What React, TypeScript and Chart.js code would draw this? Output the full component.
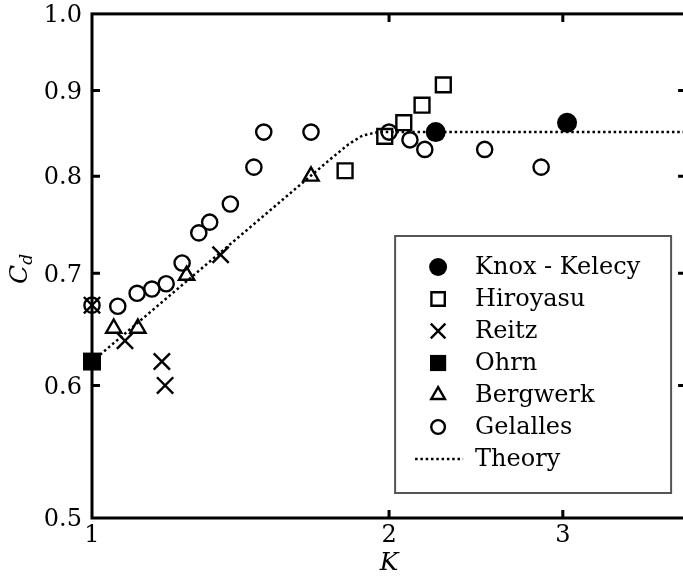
import React, { useEffect, useRef } from 'react';
import { Chart, registerables } from 'chart.js';
import { drawPoint } from 'chart.js/helpers';

Chart.register(...registerables);

// Discharge coefficient C_d against cavitation number K, by source
const knoxK = [2.23, 3.03];
const knoxCd = [0.85, 0.861];
const hiroyasuK = [1.805, 1.98, 2.07, 2.16, 2.27];
const hiroyasuCd = [0.806, 0.845, 0.861, 0.882, 0.907];
const reitzK = [1.0, 1.08, 1.177, 1.186, 1.35];
const reitzCd = [0.67, 0.638, 0.62, 0.6, 0.718];
const ohrnK = [1.0];
const ohrnCd = [0.62];
const bergwerkK = [1.052, 1.113, 1.247, 1.667];
const bergwerkCd = [0.649, 0.649, 0.698, 0.8];
const gelallesK = [1.0, 1.062, 1.111, 1.15, 1.189, 1.234, 1.283, 1.316, 1.381, 1.459, 1.493, 1.667, 2.0, 2.1, 2.174, 2.5, 2.852];
const gelallesCd = [0.67, 0.669, 0.681, 0.685, 0.69, 0.71, 0.74, 0.751, 0.77, 0.81, 0.85, 0.85, 0.85, 0.841, 0.83, 0.83, 0.81];
const theoryK = [1.0, 1.74, 1.82, 1.88, 1.95, 4.0];
const theoryCd = [0.62, 0.818, 0.836, 0.846, 0.85, 0.85];

const xTicks = [1, 2, 3];
const yTicks = [0.5, 0.6, 0.7, 0.8, 0.9, 1.0];

const SERIF = "'DejaVu Serif', serif";

const pts = (xs: number[], ys: number[]) => xs.map((x, i) => ({ x, y: ys[i] }));

// Closed frame with inward tick marks on all four sides, plus the C_d axis title
const frameTicks = {
  id: 'frameTicks',
  beforeDatasetsDraw(chart: any) {
    const { ctx, chartArea: a, scales } = chart;
    const sx = scales.x;
    const sy = scales.y;
    ctx.save();
    ctx.strokeStyle = '#000';
    ctx.lineWidth = 3;
    ctx.lineCap = 'butt';
    ctx.strokeRect(a.left, a.top, a.right - a.left, a.bottom - a.top);
    const len = 8;
    ctx.beginPath();
    xTicks.forEach((v) => {
      const px = sx.getPixelForValue(v);
      if (px <= a.left + 1 || px >= a.right - 1) return;
      ctx.moveTo(px, a.bottom);
      ctx.lineTo(px, a.bottom - len);
      ctx.moveTo(px, a.top);
      ctx.lineTo(px, a.top + len);
    });
    yTicks.forEach((v) => {
      const py = sy.getPixelForValue(v);
      if (py <= a.top + 1 || py >= a.bottom - 1) return;
      ctx.moveTo(a.left, py);
      ctx.lineTo(a.left + len, py);
      ctx.moveTo(a.right, py);
      ctx.lineTo(a.right - len, py);
    });
    ctx.stroke();

    // y-axis title: italic C with subscript d
    const cy = (a.top + a.bottom) / 2 + 3;
    ctx.translate(27, cy);
    ctx.rotate(-Math.PI / 2);
    ctx.fillStyle = '#000';
    ctx.textBaseline = 'alphabetic';
    ctx.textAlign = 'left';
    ctx.font = `italic 25px ${SERIF}`;
    const wC = ctx.measureText('C').width;
    ctx.font = `italic 17px ${SERIF}`;
    const wd = ctx.measureText('d').width;
    const start = -(wC + wd) / 2;
    ctx.font = `italic 25px ${SERIF}`;
    ctx.fillText('C', start, 0);
    ctx.font = `italic 17px ${SERIF}`;
    ctx.fillText('d', start + wC, 5);
    ctx.restore();
  },
};

// Boxed legend in the lower right of the plot area
const boxLegend = {
  id: 'boxLegend',
  afterDatasetsDraw(chart: any) {
    const { ctx, chartArea: a } = chart;
    const left = a.right - 291;
    const right = a.right - 15;
    const top = a.bottom - 282;
    const bottom = a.bottom - 25;
    ctx.save();
    ctx.fillStyle = '#fff';
    ctx.fillRect(left, top, right - left, bottom - top);
    ctx.strokeStyle = '#555';
    ctx.lineWidth = 2;
    ctx.strokeRect(left, top, right - left, bottom - top);

    const markerX = left + 43;
    const textX = left + 80;
    chart.data.datasets.forEach((ds: any, i: number) => {
      const rowY = top + 31 + i * 32;
      if (ds.showLine) {
        ctx.save();
        ctx.strokeStyle = ds.borderColor;
        ctx.lineWidth = ds.borderWidth;
        ctx.setLineDash(ds.borderDash);
        ctx.beginPath();
        ctx.moveTo(left + 20, rowY);
        ctx.lineTo(left + 68, rowY);
        ctx.stroke();
        ctx.restore();
      } else {
        ctx.fillStyle = ds.pointBackgroundColor;
        ctx.strokeStyle = ds.pointBorderColor;
        ctx.lineWidth = ds.pointBorderWidth;
        drawPoint(ctx, {
          pointStyle: ds.pointStyle,
          radius: ds.pointRadius * 0.9,
          rotation: 0,
          borderWidth: ds.pointBorderWidth,
        } as any, markerX, rowY);
      }
      ctx.fillStyle = '#000';
      ctx.font = `24px ${SERIF}`;
      ctx.textAlign = 'left';
      ctx.textBaseline = 'middle';
      ctx.fillText(ds.label, textX, rowY + 1);
    });
    ctx.restore();
  },
};

const hollow = 'rgba(0,0,0,0)';

export default function App() {
  const ref = useRef<HTMLCanvasElement | null>(null);

  useEffect(() => {
    if (!ref.current) return;
    const chart = new Chart(ref.current, {
      type: 'scatter',
      data: {
        datasets: [
          {
            label: 'Knox - Kelecy',
            data: pts(knoxK, knoxCd),
            pointStyle: 'circle',
            pointRadius: 10,
            pointBackgroundColor: '#000',
            pointBorderColor: '#000',
            pointBorderWidth: 0,
            clip: false,
          },
          {
            label: 'Hiroyasu',
            data: pts(hiroyasuK, hiroyasuCd),
            pointStyle: 'rect',
            pointRadius: 10.5,
            pointBackgroundColor: hollow,
            pointBorderColor: '#000',
            pointBorderWidth: 2.4,
            clip: false,
          },
          {
            label: 'Reitz',
            data: pts(reitzK, reitzCd),
            pointStyle: 'crossRot',
            pointRadius: 11.5,
            pointBackgroundColor: hollow,
            pointBorderColor: '#000',
            pointBorderWidth: 2.4,
            clip: false,
          },
          {
            label: 'Ohrn',
            data: pts(ohrnK, ohrnCd),
            pointStyle: 'rect',
            pointRadius: 12.7,
            pointBackgroundColor: '#000',
            pointBorderColor: '#000',
            pointBorderWidth: 0,
            clip: false,
          },
          {
            label: 'Bergwerk',
            data: pts(bergwerkK, bergwerkCd),
            pointStyle: 'triangle',
            pointRadius: 8.8,
            pointBackgroundColor: hollow,
            pointBorderColor: '#000',
            pointBorderWidth: 2.4,
            clip: false,
          },
          {
            label: 'Gelalles',
            data: pts(gelallesK, gelallesCd),
            pointStyle: 'circle',
            pointRadius: 7.6,
            pointBackgroundColor: hollow,
            pointBorderColor: '#000',
            pointBorderWidth: 2.4,
            clip: false,
          },
          {
            label: 'Theory',
            data: pts(theoryK, theoryCd),
            showLine: true,
            pointRadius: 0,
            borderColor: '#000',
            borderWidth: 2.5,
            borderDash: [2.5, 2.8],
            fill: false,
            tension: 0,
            clip: false,
          },
        ] as any,
      },
      options: {
        responsive: false,
        animation: false,
        events: [],
        layout: { padding: { left: 0, top: 13, right: 12, bottom: 0 } },
        plugins: {
          legend: { display: false },
          tooltip: { enabled: false },
        },
        scales: {
          x: {
            type: 'logarithmic',
            min: 1,
            max: 4,
            afterBuildTicks: (s: any) => {
              s.ticks = xTicks.map((v) => ({ value: v }));
            },
            afterFit: (s: any) => {
              s.height = 58;
              s.paddingLeft = 0;
              s.paddingRight = 0;
            },
            grid: { display: false, drawTicks: false },
            border: { display: false },
            ticks: {
              autoSkip: false,
              maxRotation: 0,
              padding: 3,
              color: '#000',
              font: { family: SERIF, size: 24 },
              callback: (v: any) => String(v),
            },
            title: {
              display: true,
              text: 'K',
              color: '#000',
              padding: 0,
              font: { family: SERIF, size: 25, style: 'italic', lineHeight: 1.0 },
            },
          },
          y: {
            type: 'logarithmic',
            min: 0.5,
            max: 1.0,
            afterBuildTicks: (s: any) => {
              s.ticks = yTicks.map((v) => ({ value: v }));
            },
            afterFit: (s: any) => {
              s.width = 92;
              s.paddingTop = 0;
              s.paddingBottom = 0;
            },
            grid: { display: false, drawTicks: false },
            border: { display: false },
            ticks: {
              autoSkip: false,
              padding: 10,
              labelOffset: 2,
              color: '#000',
              font: { family: SERIF, size: 24 },
              callback: (v: any) => Number(v).toFixed(1),
            },
          },
        },
      } as any,
      plugins: [frameTicks, boxLegend],
    });
    return () => chart.destroy();
  }, []);

  return (
    <div
      style={{
        position: 'fixed',
        left: 0,
        top: 0,
        width: 683,
        height: 576,
        overflow: 'hidden',
        background: '#fff',
      }}
    >
      <canvas ref={ref} width={700} height={576} style={{ display: 'block', width: 700, height: 576 }} />
    </div>
  );
}
